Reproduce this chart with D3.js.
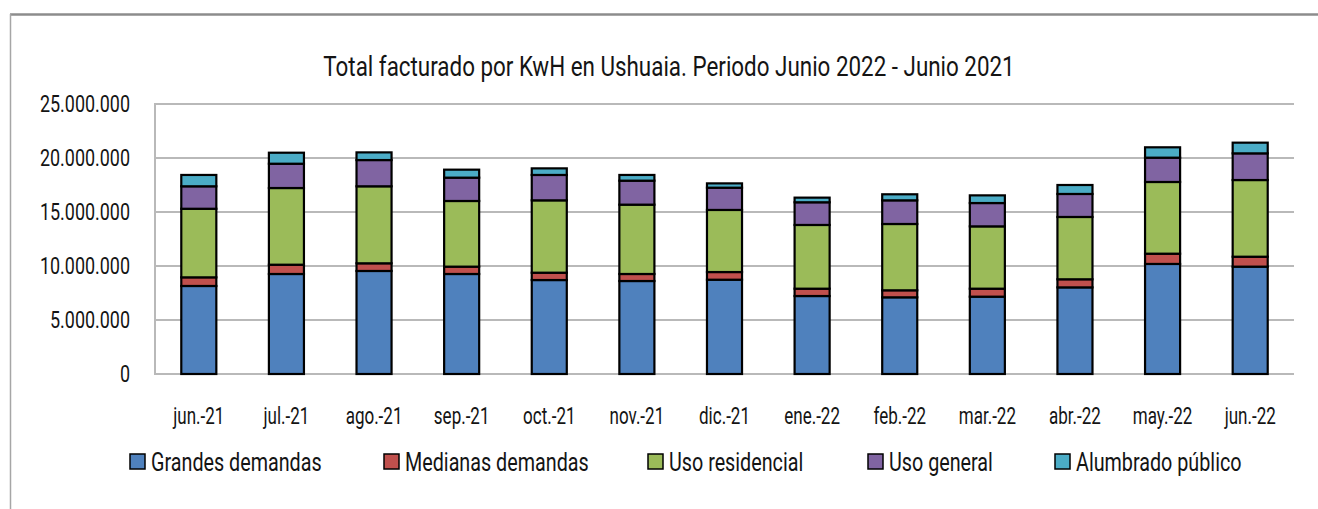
<!DOCTYPE html>
<html>
<head>
<meta charset="utf-8">
<script src="https://cdn.jsdelivr.net/npm/d3@7"></script>
<style>
  body { margin: 0; background: #fff; }
  text { font-family: Roboto, "Liberation Sans", sans-serif; fill: #141414; }
</style>
</head>
<body>
<div id="chart"></div>
<script>
// meses del periodo
const months = ['jun.-21', 'jul.-21', 'ago.-21', 'sep.-21', 'oct.-21', 'nov.-21', 'dic.-21',
    'ene.-22', 'feb.-22', 'mar.-22', 'abr.-22', 'may.-22', 'jun.-22'];

// KwH facturados por categoria
const grandes = [8150000, 9260000, 9540000, 9260000, 8700000, 8610000, 8730000, 7220000, 7100000, 7160000, 8020000, 10190000, 9940000];
const medianas = [800000, 860000, 710000, 680000, 680000, 650000, 710000, 680000, 650000, 740000, 750000, 950000, 920000];
const residencial = [6350000, 7100000, 7130000, 6080000, 6700000, 6420000, 5750000, 5900000, 6140000, 5770000, 5770000, 6640000, 7100000];
const general = [2080000, 2250000, 2430000, 2160000, 2350000, 2220000, 2060000, 2100000, 2190000, 2160000, 2130000, 2250000, 2470000];
const alumbrado = [1050000, 1020000, 710000, 740000, 610000, 530000, 400000, 430000, 560000, 710000, 830000, 960000, 990000];

const seriesNames = ['Grandes demandas', 'Medianas demandas', 'Uso residencial', 'Uso general', 'Alumbrado público'];
const colors = ['#4f81bd', '#c0504d', '#9bbb59', '#8064a2', '#4bacc6'];
const yTicks = [0, 5000000, 10000000, 15000000, 20000000, 25000000];

const width = 1318, height = 509;
const plot = {left: 155, right: 1294, top: 104, bottom: 374};

// la fuente original es condensada: se comprime en horizontal
const condense = (sel, k) => sel.attr('transform', `scale(${k},1)`);

const svg = d3.select('#chart').append('svg')
    .attr('width', width)
    .attr('height', height);

// marco recortado
svg.append('line')
    .attr('x1', 10).attr('x2', width).attr('y1', 14.5).attr('y2', 14.5)
    .attr('stroke', '#8c8c8c').attr('stroke-width', 2.5);
svg.append('line')
    .attr('x1', 10.5).attr('x2', 10.5).attr('y1', 14).attr('y2', height)
    .attr('stroke', '#a6a6a6').attr('stroke-width', 1.5);

const x = d3.scaleBand()
    .domain(months)
    .range([plot.left, plot.right])
    .paddingInner(0.6)
    .paddingOuter(0.3);

const y = d3.scaleLinear()
    .domain([0, 25000000])
    .range([plot.bottom, plot.top]);

const locale = d3.formatLocale({decimal: ',', thousands: '.', grouping: [3], currency: ['$', '']});
const fmt = locale.format(',');

// grilla
svg.append('g')
    .selectAll('line')
    .data(yTicks)
    .join('line')
    .attr('x1', plot.left).attr('x2', plot.right)
    .attr('y1', d => y(d)).attr('y2', d => y(d))
    .attr('stroke', '#b9b9b9')
    .attr('stroke-width', 2);

svg.append('line')
    .attr('x1', plot.left).attr('x2', plot.left)
    .attr('y1', plot.top - 1).attr('y2', plot.bottom + 1)
    .attr('stroke', '#b9b9b9')
    .attr('stroke-width', 2);

// eje y
const yAxis = svg.append('g')
    .attr('transform', `translate(${plot.left - 25},0)`)
    .call(d3.axisLeft(y).tickValues(yTicks).tickFormat(fmt).tickSize(0).tickPadding(0));
yAxis.select('.domain').remove();
yAxis.selectAll('text')
    .attr('font-family', null)
    .attr('font-size', null)
    .style('font-size', '23px')
    .call(condense, 0.78);

// eje x
const xAxis = svg.append('g')
    .attr('transform', `translate(0,${plot.bottom})`)
    .call(d3.axisBottom(x).tickSize(0).tickPadding(34));
xAxis.select('.domain').remove();
xAxis.selectAll('text')
    .attr('font-family', null)
    .attr('font-size', null)
    .style('font-size', '23px')
    .call(condense, 0.74);

// barras apiladas
const rows = months.map((m, i) => ({
    month: m, s0: grandes[i], s1: medianas[i], s2: residencial[i], s3: general[i], s4: alumbrado[i]
}));
const stack = d3.stack().keys(['s0', 's1', 's2', 's3', 's4'])(rows);

svg.append('g')
    .selectAll('g')
    .data(stack)
    .join('g')
    .attr('fill', (d, i) => colors[i])
    .selectAll('rect')
    .data(d => d)
    .join('rect')
    .attr('x', d => x(d.data.month))
    .attr('y', d => y(d[1]))
    .attr('width', x.bandwidth())
    .attr('height', d => y(d[0]) - y(d[1]))
    .attr('stroke', '#000')
    .attr('stroke-width', 2.2);

// titulo
svg.append('g')
    .attr('transform', 'translate(669,76)')
    .append('text')
    .attr('text-anchor', 'middle')
    .style('font-size', '28px')
    .text('Total facturado por KwH en Ushuaia. Periodo Junio 2022 - Junio 2021')
    .call(condense, 0.8);

// leyenda
const legendX = [130, 384, 648, 868, 1055];
const legend = svg.append('g')
    .selectAll('g')
    .data(seriesNames)
    .join('g')
    .attr('transform', (d, i) => `translate(${legendX[i]},454)`);
legend.append('rect')
    .attr('width', 15).attr('height', 15)
    .attr('fill', (d, i) => colors[i])
    .attr('stroke', '#000').attr('stroke-width', 1.5);
legend.append('g')
    .attr('transform', 'translate(21,17)')
    .append('text')
    .style('font-size', '25px')
    .text(d => d)
    .call(condense, 0.79);
</script>
</body>
</html>
